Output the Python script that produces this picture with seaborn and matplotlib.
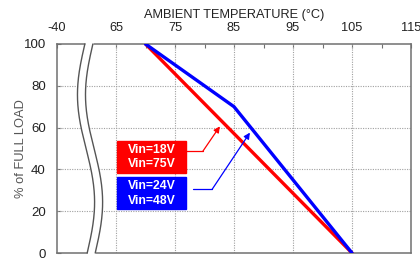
import numpy as np
import pandas as pd
import matplotlib
matplotlib.use("Agg")
import matplotlib.pyplot as plt
import seaborn as sns
from matplotlib.patches import Rectangle

# derating curves (ambient temperature in C, % of full load)
red_temp = [70, 105]
red_load = [100, 0]
blue_temp = [70, 85, 105]
blue_load = [100, 70, 0]

# top axis: positions on a linear scale, first label stands in for the broken part
tick_pos = [55, 65, 75, 85, 95, 105, 115]
tick_labels = ["-40", "65", "75", "85", "95", "105", "115"]
minor_pos = [70, 80, 90, 100, 110]
y_ticks = [0, 20, 40, 60, 80, 100]

red_text = "Vin=18V\nVin=75V"
blue_text = "Vin=24V\nVin=48V"

RED = "#ff0000"
BLUE = "#0000ff"
FRAME = "#707070"

sns.set_theme(style="white")
plt.rcParams["font.family"] = ["Liberation Sans", "DejaVu Sans"]

df = pd.concat([
    pd.DataFrame({"temp": red_temp, "load": red_load, "vin": "18V/75V"}),
    pd.DataFrame({"temp": blue_temp, "load": blue_load, "vin": "24V/48V"}),
])

fig = plt.figure(figsize=(4.2, 2.59), dpi=100)
ax = fig.add_axes([57 / 420, 6 / 259, 354 / 420, 209 / 259])

# grid first so the lines sit on top
for x in tick_pos[1:-1]:
    ax.axvline(x, color="#a0a0a0", lw=0.8, ls=(0, (1, 1.2)), zorder=1)
for y in y_ticks[1:-1]:
    ax.axhline(y, color="#a0a0a0", lw=0.8, ls=(0, (1, 1.2)), zorder=1)

sns.lineplot(data=df, x="temp", y="load", hue="vin", palette=[RED, BLUE],
             lw=2.4, legend=False, sort=False, ax=ax, zorder=3)

ax.set_xlim(55, 115)
ax.set_ylim(0, 100)

# top axis labels
ax.xaxis.tick_top()
ax.xaxis.set_label_position("top")
ax.set_xticks(tick_pos)
ax.set_xticklabels(tick_labels)
ax.set_xticks(minor_pos, minor=True)
ax.set_xlabel("AMBIENT TEMPERATURE (\u00b0C)", fontsize=9.2, labelpad=2.5, color="#222222")
ax.set_yticks(y_ticks)
ax.set_ylabel("% of FULL LOAD", fontsize=9.3, color="#555555")
ax.yaxis.set_label_coords(-0.085, 0.5)
ax.tick_params(axis="x", which="both", direction="in", length=3, width=0.8,
               color=FRAME, labelsize=9.2, pad=7.5, labelcolor="#222222")
ax.tick_params(axis="y", direction="in", length=3, width=0.8, color=FRAME,
               labelsize=9.5, pad=8, labelcolor="#222222", left=True)
for s in ax.spines.values():
    s.set_color(FRAME)
    s.set_linewidth(1.1)

# axis break: white band with two wavy edges
yy = np.linspace(-0.8, 100.8, 200)
wave = -1.35 * np.sin(2 * np.pi * (100 - yy) / 100) + 0.4 * (100 - yy) / 100
center = 60.4 + wave
ax.fill_betweenx(yy, center - 0.68, center + 0.68, color="white", lw=0,
                 zorder=4, clip_on=False)
yl = np.linspace(0, 100, 200)
wl = -1.35 * np.sin(2 * np.pi * (100 - yl) / 100) + 0.4 * (100 - yl) / 100
for side in (-0.68, 0.68):
    ax.plot(60.4 + wl + side, yl, color="#555555", lw=1.0, zorder=5, clip_on=False)

# labels with arrows
ax.add_patch(Rectangle((65.2, 38.1), 11.7, 15.7, color=RED, zorder=6))
ax.text(71.05, 46.0, red_text, color="white", fontsize=8.8, fontweight="bold",
        ha="center", va="center", linespacing=1.3, zorder=7)
ax.add_patch(Rectangle((65.2, 21.0), 11.7, 15.2, color=BLUE, zorder=6))
ax.text(71.05, 28.6, blue_text, color="white", fontsize=8.8, fontweight="bold",
        ha="center", va="center", linespacing=1.3, zorder=7)

ax.plot([76.9, 79.7], [48.6, 48.6], color=RED, lw=0.9, zorder=6)
ax.annotate("", xy=(82.6, 60.6), xytext=(79.7, 48.6),
            arrowprops=dict(arrowstyle="-|>", color=RED, lw=0.9, mutation_scale=9,
                            shrinkA=0, shrinkB=0), zorder=6)
ax.plot([78.1, 81.3], [30.5, 30.5], color=BLUE, lw=0.9, zorder=6)
ax.annotate("", xy=(87.7, 57.6), xytext=(81.3, 30.5),
            arrowprops=dict(arrowstyle="-|>", color=BLUE, lw=0.9, mutation_scale=9,
                            shrinkA=0, shrinkB=0), zorder=6)

fig.savefig("out.png", dpi=100)
